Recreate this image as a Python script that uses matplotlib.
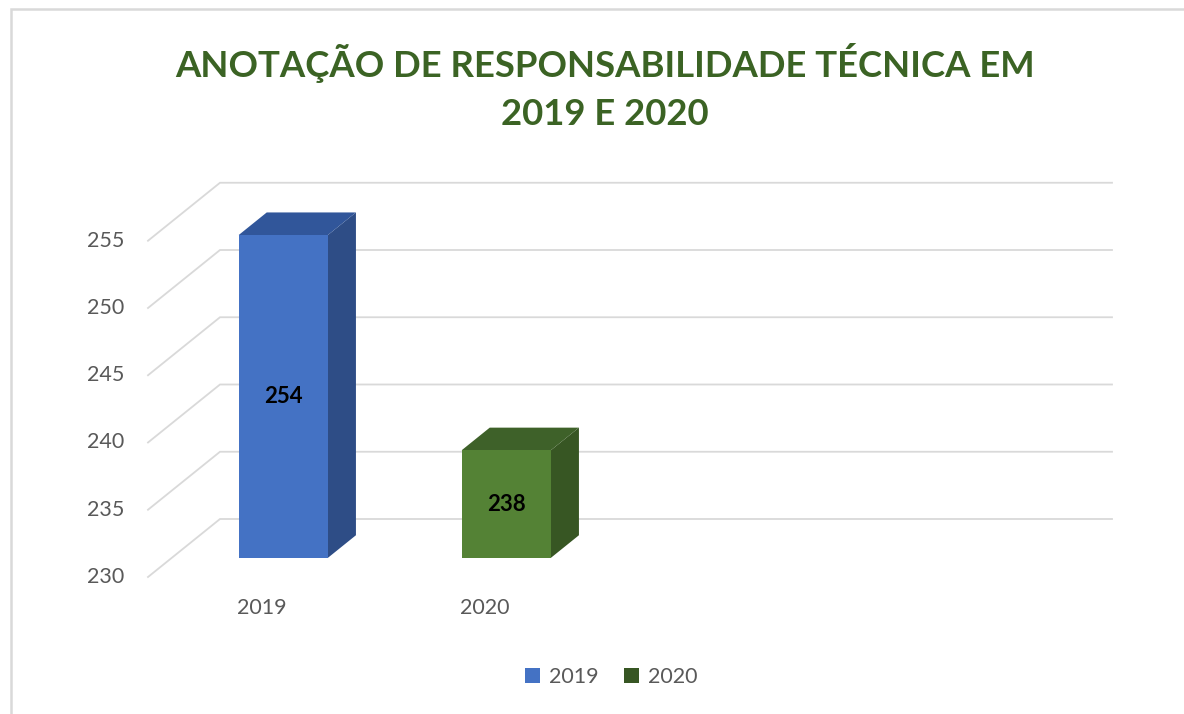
import matplotlib
matplotlib.use("Agg")
import matplotlib.pyplot as plt
from matplotlib.patches import Polygon, Patch, Rectangle

# ---- data ----
categories = ["2019", "2020"]
values = [254, 238]
y_ticks = [230, 235, 240, 245, 250, 255]
title = "ANOTAÇÃO DE RESPONSABILIDADE TÉCNICA EM\n2019 E 2020"

# ---- style ----
front_colors = ["#4472C4", "#548235"]
side_colors = ["#2E4D86", "#375623"]
top_colors = ["#31569A", "#3E6129"]
legend_colors = ["#4472C4", "#375623"]
grid_color = "#D9D9D9"
text_gray = "#595959"
title_color = "#3B6324"
FONT = ["Lato", "DejaVu Sans"]

W, H, DPI = 1184, 714, 100
fig = plt.figure(figsize=(W / DPI, H / DPI), dpi=DPI)
ax = fig.add_axes([0, 0, 1, 1])
ax.set_axis_off()

# pixel geometry of the pseudo-3D plot area
n_slots = 4                 # category slots on the axis (2 used)
px_left, px_cat = 148, 223  # front plane left edge, px per category
py_base, py_unit = 577, 13.45
vmin = y_ticks[0]
ax.set_xlim(-0.5 - px_left / px_cat, -0.5 + (W - px_left) / px_cat)
ax.set_ylim(vmin - (H - py_base) / py_unit, vmin + py_base / py_unit)

DX = 72 / px_cat       # depth shift (category units)
DY = 58 / py_unit      # depth shift (value units)

def P(x, v, z):
    return (x + z * DX, v + z * DY)

# gridlines: side wall diagonals + back wall horizontals
x0, x1 = -0.5, n_slots - 0.5
for v in y_ticks:
    a, b, c = P(x0, v, 0), P(x0, v, 1), P(x1, v, 1)
    ax.plot([a[0], b[0], c[0]], [a[1], b[1], c[1]], color=grid_color, lw=1.3,
            solid_joinstyle="miter", zorder=1)
    ax.text(x0 - 24 / px_cat, v, str(v), ha="right", va="center",
            fontsize=15.5, color=text_gray, family=FONT)

# bars
z0, z1, bw = 0.33, 0.72, 0.40
for i, (cat, val) in enumerate(zip(categories, values)):
    xl, xr = i - bw / 2, i + bw / 2
    front = [P(xl, vmin, z0), P(xr, vmin, z0), P(xr, val, z0), P(xl, val, z0)]
    side = [P(xr, vmin, z0), P(xr, val, z0), P(xr, val, z1), P(xr, vmin, z1)]
    top = [P(xl, val, z0), P(xr, val, z0), P(xr, val, z1), P(xl, val, z1)]
    ax.add_patch(Polygon(side, closed=True, fc=side_colors[i], ec="none", zorder=3))
    ax.add_patch(Polygon(top, closed=True, fc=top_colors[i], ec="none", zorder=3))
    ax.add_patch(Polygon(front, closed=True, fc=front_colors[i], ec="none", zorder=4))
    cx, cy = P(i, (vmin + val) / 2, z0)
    ax.text(cx, cy, str(val), ha="center", va="center", fontsize=16,
            fontweight="bold", color="black", family=FONT, zorder=5)
    ax.text(i + 0.01, vmin - 31 / py_unit, cat, ha="center", va="center",
            fontsize=15.5, color=text_gray, family=FONT)

# title
t = fig.text(605 / W, 1 - 87 / H, title, ha="center", va="center",
             fontsize=26.3, fontweight="bold", color=title_color, family=FONT,
             linespacing=1.55)

# legend
handles = [Patch(fc=c, ec="none") for c in legend_colors]
fig.legend(handles, categories, loc="center", bbox_to_anchor=(611 / W, 1 - 677 / H),
           ncol=2, frameon=False, handlelength=0.7, handleheight=0.7,
           handletextpad=0.4, columnspacing=1.2,
           prop={"family": FONT, "size": 15.5}, labelcolor=text_gray)

# chart border
fig.add_artist(Rectangle((11 / W, -0.05), 1.1, 1.05 - 9 / H, transform=fig.transFigure,
                         fill=False, ec="#D9D9D9", lw=1.8))

fig.savefig("out.png", dpi=DPI, facecolor="white")
